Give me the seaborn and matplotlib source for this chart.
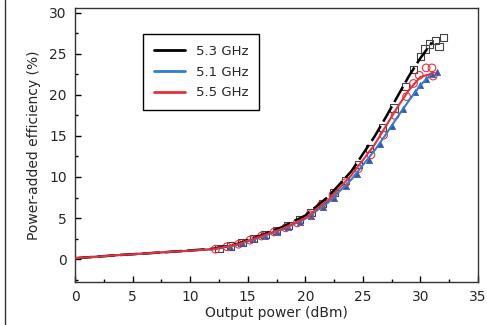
import matplotlib
matplotlib.use("Agg")
import matplotlib.pyplot as plt
from matplotlib.lines import Line2D
from matplotlib.ticker import MultipleLocator
import seaborn as sns

# -------------------------
# data
# -------------------------
line_x = [0, 4, 8, 12, 14, 16, 18, 20, 22, 24, 26, 27, 28, 29, 30, 31]
line_53 = [0.1, 0.5, 0.85, 1.25, 1.8, 2.8, 3.9, 5.3, 7.6, 10.7, 14.9, 17.3, 19.8, 22.3, 24.5, 26.4]
line_51 = [0.1, 0.5, 0.85, 1.2, 1.7, 2.6, 3.6, 4.9, 6.9, 9.7, 13.2, 15.2, 17.3, 19.3, 21.2, 22.6]
line_55 = [0.1, 0.5, 0.85, 1.2, 1.75, 2.7, 3.7, 5.0, 7.2, 10.2, 13.9, 16.2, 18.5, 20.6, 22.2, 22.6]

sq_x = [12.5, 13.5, 14.5, 15.5, 16.5, 17.5, 18.5, 19.5, 20.5, 21.5, 22.5, 23.5,
        24.6, 25.6, 26.7, 27.7, 28.7, 29.4, 30.0, 30.4, 30.8, 31.3, 31.6, 32.0]
sq_y = [1.3, 1.6, 2.0, 2.5, 3.0, 3.5, 4.1, 4.8, 5.7, 6.8, 8.1, 9.6,
        11.5, 13.5, 16.0, 18.4, 21.0, 23.1, 24.7, 25.6, 26.2, 26.6, 25.9, 27.0]

tri_x = [13.5, 14.5, 15.5, 16.5, 17.5, 18.5, 19.5, 20.5, 21.5, 22.5, 23.5,
         24.5, 25.5, 26.5, 27.5, 28.5, 29.5, 30.0, 30.5, 31.0, 31.4]
tri_y = [1.5, 1.9, 2.4, 2.8, 3.3, 3.9, 4.5, 5.3, 6.3, 7.5, 8.9,
         10.4, 12.1, 14.0, 16.2, 18.3, 20.3, 21.2, 22.0, 22.5, 22.8]

circ_x = [12.2, 13.2, 14.2, 15.2, 16.2, 17.3, 18.3, 19.3, 20.4, 21.4, 22.4,
          23.5, 24.6, 25.7, 26.8, 27.8, 28.8, 29.4, 29.9, 30.5, 31.0, 31.1]
circ_y = [1.2, 1.5, 1.8, 2.3, 2.8, 3.3, 3.8, 4.4, 5.4, 6.6, 7.8,
          9.3, 11.0, 12.7, 15.1, 17.5, 19.8, 21.4, 22.4, 23.3, 23.3, 22.3]

# -------------------------
# style
# -------------------------
sns.set_style("ticks")
plt.rcParams['font.family'] = ['DejaVu Sans']
plt.rcParams['font.size'] = 10

fig = plt.figure(figsize=(4.87, 3.25), dpi=100)
ax = fig.add_axes([75 / 487, 1 - 282 / 325, 403 / 487, 274 / 325])

blue = '#2f7fd0'
red = '#e8303a'

# markers first, lines on top
sns.scatterplot(x=sq_x, y=sq_y, marker='s', s=28, facecolor='none',
                edgecolor='#444444', linewidth=0.8, ax=ax, zorder=2)
sns.scatterplot(x=tri_x, y=tri_y, marker='^', s=20, color='#3356b0',
                edgecolor='#3356b0', linewidth=0.5, ax=ax, zorder=2)
sns.scatterplot(x=circ_x, y=circ_y, marker='o', s=30, facecolor='none',
                edgecolor=red, linewidth=0.8, ax=ax, zorder=3)

sns.lineplot(x=line_x, y=line_51, color=blue, lw=1.5, ax=ax, zorder=4)
sns.lineplot(x=line_x, y=line_55, color=red, lw=1.5, ax=ax, zorder=5)
sns.lineplot(x=line_x, y=line_53, color='black', lw=1.8, ax=ax,
             zorder=4, linestyle=(0, (7, 2)))

ax.set_xlim(0, 35)
ax.set_ylim(-2.8, 30.6)
ax.xaxis.set_major_locator(MultipleLocator(5))
ax.xaxis.set_minor_locator(MultipleLocator(2.5))
ax.yaxis.set_major_locator(MultipleLocator(5))
ax.yaxis.set_minor_locator(MultipleLocator(2.5))
ax.tick_params(which='both', direction='in', top=False, right=False, color='black')
ax.tick_params(which='major', length=4, width=1, pad=6)
ax.tick_params(which='minor', length=2, width=1)
for sp in ax.spines.values():
    sp.set_color('#333333')
    sp.set_linewidth(1)

ax.set_xlabel("Output power (dBm)", labelpad=1)
ax.set_ylabel("Power-added efficiency (%)", labelpad=6)

handles = [Line2D([], [], color='black', lw=2),
           Line2D([], [], color=blue, lw=2),
           Line2D([], [], color=red, lw=2)]
leg = ax.legend(handles, ['5.3 GHz', '5.1 GHz', '5.5 GHz'], loc='upper left',
                bbox_to_anchor=(0.169, 0.905), borderaxespad=0, fancybox=False,
                framealpha=1, edgecolor='black', fontsize=9.5, handlelength=2.4,
                borderpad=0.8, labelspacing=0.6)
leg.get_frame().set_linewidth(1)

# left border of the figure
fig.add_artist(Line2D([5 / 487, 5 / 487], [0, 1], color='#333333', lw=1,
                      transform=fig.transFigure))

fig.savefig("out.png", dpi=100)
